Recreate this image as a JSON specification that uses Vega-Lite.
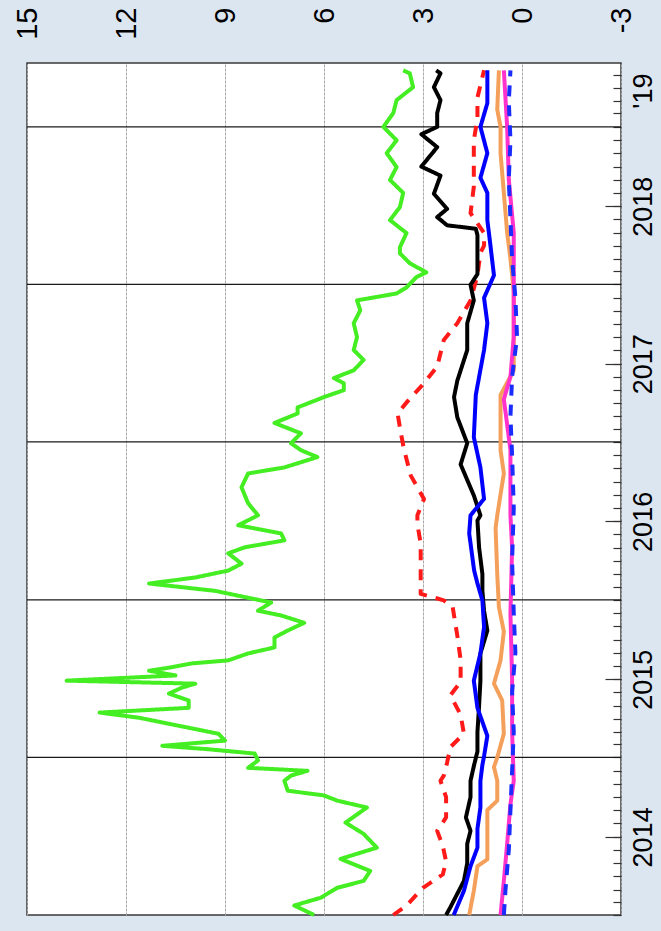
{
  "$schema": "https://vega.github.io/schema/vega-lite/v6.json",
  "width": 594,
  "height": 852,
  "autosize": {"type": "none"},
  "padding": {"left": 27, "top": 63, "right": 40, "bottom": 16},
  "background": "#dce6f0",
  "config": {
    "view": {"fill": "white", "stroke": "#3a3a3a", "strokeWidth": 1.5},
    "font": "Liberation Sans",
    "axis": {"labelFont": "Liberation Sans", "labelColor": "#000000", "title": null}
  },
  "datasets": {
    "years": [
      {"date": "2015-01-01"}, {"date": "2016-01-01"}, {"date": "2017-01-01"}, {"date": "2018-01-01"}, {"date": "2019-01-01"}
    ],
    "series": [
      {"s": "green", "d": "2014-01-01", "v": 6.3},
      {"s": "green", "d": "2014-01-23", "v": 6.9},
      {"s": "green", "d": "2014-02-10", "v": 6.1},
      {"s": "green", "d": "2014-03-05", "v": 5.6},
      {"s": "green", "d": "2014-03-21", "v": 4.8},
      {"s": "green", "d": "2014-04-13", "v": 4.6},
      {"s": "green", "d": "2014-05-11", "v": 5.5},
      {"s": "green", "d": "2014-06-06", "v": 4.4},
      {"s": "green", "d": "2014-07-08", "v": 4.8},
      {"s": "green", "d": "2014-08-03", "v": 5.35},
      {"s": "green", "d": "2014-09-07", "v": 4.7},
      {"s": "green", "d": "2014-09-23", "v": 5.6},
      {"s": "green", "d": "2014-10-05", "v": 6.0},
      {"s": "green", "d": "2014-10-16", "v": 7.1},
      {"s": "green", "d": "2014-11-08", "v": 7.2},
      {"s": "green", "d": "2014-11-20", "v": 7.0},
      {"s": "green", "d": "2014-12-01", "v": 6.5},
      {"s": "green", "d": "2014-12-08", "v": 8.3},
      {"s": "green", "d": "2014-12-25", "v": 8.0},
      {"s": "green", "d": "2015-01-10", "v": 8.1},
      {"s": "green", "d": "2015-01-20", "v": 9.5},
      {"s": "green", "d": "2015-01-28", "v": 10.9},
      {"s": "green", "d": "2015-02-09", "v": 9.0},
      {"s": "green", "d": "2015-02-25", "v": 9.2},
      {"s": "green", "d": "2015-03-20", "v": 10.7},
      {"s": "green", "d": "2015-04-03", "v": 11.6},
      {"s": "green", "d": "2015-04-15", "v": 12.8},
      {"s": "green", "d": "2015-04-26", "v": 10.1},
      {"s": "green", "d": "2015-05-13", "v": 10.1},
      {"s": "green", "d": "2015-05-29", "v": 10.7},
      {"s": "green", "d": "2015-06-12", "v": 10.3},
      {"s": "green", "d": "2015-06-21", "v": 9.9},
      {"s": "green", "d": "2015-06-28", "v": 13.8},
      {"s": "green", "d": "2015-07-10", "v": 10.5},
      {"s": "green", "d": "2015-07-21", "v": 11.3},
      {"s": "green", "d": "2015-07-28", "v": 10.7},
      {"s": "green", "d": "2015-08-07", "v": 10.0},
      {"s": "green", "d": "2015-08-14", "v": 8.9},
      {"s": "green", "d": "2015-08-30", "v": 8.3},
      {"s": "green", "d": "2015-09-13", "v": 7.5},
      {"s": "green", "d": "2015-10-06", "v": 7.5},
      {"s": "green", "d": "2015-10-22", "v": 7.1},
      {"s": "green", "d": "2015-11-09", "v": 6.6},
      {"s": "green", "d": "2015-11-26", "v": 7.3},
      {"s": "green", "d": "2015-12-07", "v": 8.0},
      {"s": "green", "d": "2015-12-26", "v": 7.6},
      {"s": "green", "d": "2016-01-06", "v": 8.3},
      {"s": "green", "d": "2016-01-22", "v": 9.3},
      {"s": "green", "d": "2016-02-08", "v": 11.3},
      {"s": "green", "d": "2016-02-22", "v": 9.9},
      {"s": "green", "d": "2016-03-09", "v": 8.9},
      {"s": "green", "d": "2016-03-25", "v": 8.5},
      {"s": "green", "d": "2016-04-18", "v": 8.9},
      {"s": "green", "d": "2016-05-02", "v": 8.4},
      {"s": "green", "d": "2016-05-18", "v": 7.2},
      {"s": "green", "d": "2016-06-03", "v": 7.3},
      {"s": "green", "d": "2016-06-22", "v": 8.6},
      {"s": "green", "d": "2016-07-15", "v": 8.0},
      {"s": "green", "d": "2016-08-12", "v": 8.3},
      {"s": "green", "d": "2016-09-18", "v": 8.5},
      {"s": "green", "d": "2016-10-20", "v": 8.3},
      {"s": "green", "d": "2016-11-03", "v": 7.2},
      {"s": "green", "d": "2016-11-27", "v": 6.2},
      {"s": "green", "d": "2016-12-13", "v": 6.7},
      {"s": "green", "d": "2016-12-29", "v": 7.0},
      {"s": "green", "d": "2017-01-21", "v": 6.7},
      {"s": "green", "d": "2017-02-14", "v": 7.5},
      {"s": "green", "d": "2017-03-08", "v": 6.8},
      {"s": "green", "d": "2017-03-22", "v": 6.8},
      {"s": "green", "d": "2017-04-15", "v": 6.0},
      {"s": "green", "d": "2017-05-01", "v": 5.4},
      {"s": "green", "d": "2017-05-17", "v": 5.4},
      {"s": "green", "d": "2017-05-29", "v": 5.7},
      {"s": "green", "d": "2017-06-16", "v": 5.1},
      {"s": "green", "d": "2017-07-10", "v": 4.8},
      {"s": "green", "d": "2017-08-02", "v": 5.1},
      {"s": "green", "d": "2017-09-01", "v": 5.0},
      {"s": "green", "d": "2017-10-03", "v": 5.1},
      {"s": "green", "d": "2017-11-02", "v": 4.9},
      {"s": "green", "d": "2017-11-25", "v": 5.0},
      {"s": "green", "d": "2017-12-11", "v": 3.8},
      {"s": "green", "d": "2017-12-25", "v": 3.5},
      {"s": "green", "d": "2018-01-18", "v": 3.2},
      {"s": "green", "d": "2018-01-29", "v": 2.9},
      {"s": "green", "d": "2018-02-19", "v": 3.4},
      {"s": "green", "d": "2018-03-14", "v": 3.7},
      {"s": "green", "d": "2018-03-28", "v": 3.7},
      {"s": "green", "d": "2018-04-30", "v": 3.5},
      {"s": "green", "d": "2018-05-30", "v": 4.0},
      {"s": "green", "d": "2018-06-29", "v": 3.7},
      {"s": "green", "d": "2018-08-01", "v": 3.6},
      {"s": "green", "d": "2018-08-31", "v": 4.0},
      {"s": "green", "d": "2018-09-30", "v": 3.8},
      {"s": "green", "d": "2018-11-01", "v": 4.1},
      {"s": "green", "d": "2018-12-01", "v": 3.8},
      {"s": "green", "d": "2019-01-01", "v": 4.2},
      {"s": "green", "d": "2019-02-02", "v": 3.9},
      {"s": "green", "d": "2019-03-04", "v": 3.8},
      {"s": "green", "d": "2019-04-03", "v": 3.3},
      {"s": "green", "d": "2019-05-05", "v": 3.4},
      {"s": "green", "d": "2019-05-12", "v": 3.6},

      {"s": "red", "d": "2014-01-01", "v": 3.9},
      {"s": "red", "d": "2014-01-23", "v": 3.5},
      {"s": "red", "d": "2014-03-05", "v": 3.0},
      {"s": "red", "d": "2014-04-05", "v": 2.4},
      {"s": "red", "d": "2014-05-05", "v": 2.3},
      {"s": "red", "d": "2014-06-10", "v": 2.4},
      {"s": "red", "d": "2014-07-15", "v": 2.57},
      {"s": "red", "d": "2014-08-15", "v": 2.3},
      {"s": "red", "d": "2014-10-01", "v": 2.3},
      {"s": "red", "d": "2014-11-08", "v": 2.47},
      {"s": "red", "d": "2014-11-20", "v": 2.37},
      {"s": "red", "d": "2014-12-20", "v": 2.27},
      {"s": "red", "d": "2015-01-25", "v": 2.17},
      {"s": "red", "d": "2015-02-25", "v": 1.76},
      {"s": "red", "d": "2015-04-10", "v": 1.86},
      {"s": "red", "d": "2015-05-25", "v": 2.17},
      {"s": "red", "d": "2015-06-25", "v": 1.86},
      {"s": "red", "d": "2015-08-15", "v": 1.86},
      {"s": "red", "d": "2015-10-10", "v": 1.96},
      {"s": "red", "d": "2015-12-15", "v": 2.1},
      {"s": "red", "d": "2015-12-31", "v": 2.37},
      {"s": "red", "d": "2016-01-15", "v": 3.07},
      {"s": "red", "d": "2016-03-09", "v": 3.07},
      {"s": "red", "d": "2016-05-10", "v": 3.07},
      {"s": "red", "d": "2016-06-25", "v": 3.17},
      {"s": "red", "d": "2016-07-15", "v": 3.17},
      {"s": "red", "d": "2016-08-22", "v": 2.97},
      {"s": "red", "d": "2016-10-15", "v": 3.37},
      {"s": "red", "d": "2016-12-13", "v": 3.57},
      {"s": "red", "d": "2017-01-21", "v": 3.67},
      {"s": "red", "d": "2017-03-08", "v": 3.77},
      {"s": "red", "d": "2017-04-05", "v": 3.47},
      {"s": "red", "d": "2017-05-17", "v": 2.97},
      {"s": "red", "d": "2017-06-25", "v": 2.57},
      {"s": "red", "d": "2017-08-25", "v": 2.37},
      {"s": "red", "d": "2017-10-03", "v": 1.96},
      {"s": "red", "d": "2017-11-25", "v": 1.56},
      {"s": "red", "d": "2018-01-22", "v": 1.35},
      {"s": "red", "d": "2018-03-15", "v": 1.26},
      {"s": "red", "d": "2018-04-01", "v": 1.15},
      {"s": "red", "d": "2018-04-30", "v": 1.15},
      {"s": "red", "d": "2018-06-15", "v": 1.56},
      {"s": "red", "d": "2018-08-15", "v": 1.46},
      {"s": "red", "d": "2018-10-01", "v": 1.46},
      {"s": "red", "d": "2018-12-01", "v": 1.46},
      {"s": "red", "d": "2019-01-20", "v": 1.35},
      {"s": "red", "d": "2019-03-10", "v": 1.35},
      {"s": "red", "d": "2019-05-12", "v": 1.15},

      {"s": "black", "d": "2014-01-01", "v": 2.3},
      {"s": "black", "d": "2014-01-19", "v": 2.17},
      {"s": "black", "d": "2014-03-21", "v": 1.76},
      {"s": "black", "d": "2014-05-01", "v": 1.66},
      {"s": "black", "d": "2014-06-15", "v": 1.66},
      {"s": "black", "d": "2014-07-15", "v": 1.56},
      {"s": "black", "d": "2014-08-15", "v": 1.7},
      {"s": "black", "d": "2014-10-01", "v": 1.56},
      {"s": "black", "d": "2014-11-08", "v": 1.56},
      {"s": "black", "d": "2014-12-15", "v": 1.45},
      {"s": "black", "d": "2015-01-15", "v": 1.35},
      {"s": "black", "d": "2015-03-01", "v": 1.35},
      {"s": "black", "d": "2015-05-01", "v": 1.3},
      {"s": "black", "d": "2015-06-28", "v": 1.26},
      {"s": "black", "d": "2015-08-30", "v": 1.26},
      {"s": "black", "d": "2015-10-22", "v": 1.05},
      {"s": "black", "d": "2015-12-07", "v": 1.15},
      {"s": "black", "d": "2016-01-22", "v": 1.2},
      {"s": "black", "d": "2016-03-01", "v": 1.2},
      {"s": "black", "d": "2016-05-01", "v": 1.3},
      {"s": "black", "d": "2016-07-03", "v": 1.35},
      {"s": "black", "d": "2016-07-15", "v": 1.26},
      {"s": "black", "d": "2016-08-30", "v": 1.46},
      {"s": "black", "d": "2016-11-10", "v": 1.86},
      {"s": "black", "d": "2016-12-29", "v": 1.66},
      {"s": "black", "d": "2017-02-27", "v": 1.96},
      {"s": "black", "d": "2017-04-15", "v": 2.06},
      {"s": "black", "d": "2017-05-23", "v": 1.96},
      {"s": "black", "d": "2017-08-02", "v": 1.66},
      {"s": "black", "d": "2017-10-03", "v": 1.66},
      {"s": "black", "d": "2017-11-25", "v": 1.46},
      {"s": "black", "d": "2017-12-31", "v": 1.56},
      {"s": "black", "d": "2018-01-25", "v": 1.35},
      {"s": "black", "d": "2018-03-01", "v": 1.35},
      {"s": "black", "d": "2018-04-25", "v": 1.35},
      {"s": "black", "d": "2018-05-10", "v": 1.4},
      {"s": "black", "d": "2018-05-18", "v": 2.27},
      {"s": "black", "d": "2018-06-06", "v": 2.57},
      {"s": "black", "d": "2018-06-25", "v": 2.27},
      {"s": "black", "d": "2018-07-30", "v": 2.67},
      {"s": "black", "d": "2018-09-10", "v": 2.47},
      {"s": "black", "d": "2018-10-01", "v": 3.05},
      {"s": "black", "d": "2018-11-15", "v": 2.57},
      {"s": "black", "d": "2018-12-15", "v": 3.05},
      {"s": "black", "d": "2019-01-01", "v": 2.57},
      {"s": "black", "d": "2019-02-02", "v": 2.57},
      {"s": "black", "d": "2019-03-04", "v": 2.47},
      {"s": "black", "d": "2019-04-03", "v": 2.67},
      {"s": "black", "d": "2019-05-05", "v": 2.47},
      {"s": "black", "d": "2019-05-12", "v": 2.6},

      {"s": "blue", "d": "2014-01-01", "v": 2.07},
      {"s": "blue", "d": "2014-02-26", "v": 1.76},
      {"s": "blue", "d": "2014-04-24", "v": 1.56},
      {"s": "blue", "d": "2014-06-06", "v": 1.35},
      {"s": "blue", "d": "2014-07-20", "v": 1.35},
      {"s": "blue", "d": "2014-09-07", "v": 1.26},
      {"s": "blue", "d": "2014-11-08", "v": 1.26},
      {"s": "blue", "d": "2014-12-15", "v": 1.2},
      {"s": "blue", "d": "2015-01-04", "v": 1.15},
      {"s": "blue", "d": "2015-02-20", "v": 1.05},
      {"s": "blue", "d": "2015-04-26", "v": 1.35},
      {"s": "blue", "d": "2015-06-28", "v": 1.46},
      {"s": "blue", "d": "2015-08-30", "v": 1.26},
      {"s": "blue", "d": "2015-10-30", "v": 1.15},
      {"s": "blue", "d": "2015-12-31", "v": 1.2},
      {"s": "blue", "d": "2016-02-08", "v": 1.35},
      {"s": "blue", "d": "2016-03-09", "v": 1.45},
      {"s": "blue", "d": "2016-06-03", "v": 1.6},
      {"s": "blue", "d": "2016-07-15", "v": 1.56},
      {"s": "blue", "d": "2016-08-22", "v": 1.15},
      {"s": "blue", "d": "2016-11-03", "v": 1.26},
      {"s": "blue", "d": "2017-01-12", "v": 1.46},
      {"s": "blue", "d": "2017-04-20", "v": 1.4},
      {"s": "blue", "d": "2017-08-02", "v": 1.15},
      {"s": "blue", "d": "2017-10-03", "v": 1.05},
      {"s": "blue", "d": "2017-12-01", "v": 1.15},
      {"s": "blue", "d": "2018-01-22", "v": 0.85},
      {"s": "blue", "d": "2018-03-28", "v": 0.95},
      {"s": "blue", "d": "2018-05-30", "v": 1.05},
      {"s": "blue", "d": "2018-08-01", "v": 1.05},
      {"s": "blue", "d": "2018-09-05", "v": 1.26},
      {"s": "blue", "d": "2018-11-01", "v": 1.05},
      {"s": "blue", "d": "2019-01-01", "v": 1.26},
      {"s": "blue", "d": "2019-02-25", "v": 1.05},
      {"s": "blue", "d": "2019-05-12", "v": 1.05},

      {"s": "orange", "d": "2014-01-01", "v": 1.6},
      {"s": "orange", "d": "2014-02-26", "v": 1.46},
      {"s": "orange", "d": "2014-04-24", "v": 1.35},
      {"s": "orange", "d": "2014-05-10", "v": 1.05},
      {"s": "orange", "d": "2014-07-15", "v": 1.05},
      {"s": "orange", "d": "2014-09-01", "v": 1.05},
      {"s": "orange", "d": "2014-09-23", "v": 0.75},
      {"s": "orange", "d": "2014-11-08", "v": 0.75},
      {"s": "orange", "d": "2014-12-10", "v": 0.85},
      {"s": "orange", "d": "2015-01-01", "v": 0.75},
      {"s": "orange", "d": "2015-02-25", "v": 0.55},
      {"s": "orange", "d": "2015-05-13", "v": 0.6},
      {"s": "orange", "d": "2015-06-21", "v": 0.85},
      {"s": "orange", "d": "2015-08-14", "v": 0.65},
      {"s": "orange", "d": "2015-10-20", "v": 0.55},
      {"s": "orange", "d": "2015-12-15", "v": 0.7},
      {"s": "orange", "d": "2016-03-01", "v": 0.75},
      {"s": "orange", "d": "2016-06-15", "v": 0.8},
      {"s": "orange", "d": "2016-07-15", "v": 0.75},
      {"s": "orange", "d": "2016-10-20", "v": 0.55},
      {"s": "orange", "d": "2016-12-13", "v": 0.65},
      {"s": "orange", "d": "2017-04-20", "v": 0.65},
      {"s": "orange", "d": "2017-06-16", "v": 0.25},
      {"s": "orange", "d": "2017-10-01", "v": 0.25},
      {"s": "orange", "d": "2017-12-15", "v": 0.25},
      {"s": "orange", "d": "2018-03-01", "v": 0.35},
      {"s": "orange", "d": "2018-05-01", "v": 0.45},
      {"s": "orange", "d": "2018-08-01", "v": 0.55},
      {"s": "orange", "d": "2018-11-01", "v": 0.65},
      {"s": "orange", "d": "2019-01-01", "v": 0.65},
      {"s": "orange", "d": "2019-02-10", "v": 0.75},
      {"s": "orange", "d": "2019-05-12", "v": 0.7},

      {"s": "magenta", "d": "2014-01-01", "v": 0.65},
      {"s": "magenta", "d": "2014-03-21", "v": 0.55},
      {"s": "magenta", "d": "2014-06-15", "v": 0.45},
      {"s": "magenta", "d": "2014-09-15", "v": 0.35},
      {"s": "magenta", "d": "2014-11-08", "v": 0.25},
      {"s": "magenta", "d": "2015-03-01", "v": 0.3},
      {"s": "magenta", "d": "2015-07-01", "v": 0.3},
      {"s": "magenta", "d": "2015-12-01", "v": 0.35},
      {"s": "magenta", "d": "2016-05-01", "v": 0.3},
      {"s": "magenta", "d": "2016-07-15", "v": 0.35},
      {"s": "magenta", "d": "2016-12-13", "v": 0.35},
      {"s": "magenta", "d": "2017-04-10", "v": 0.55},
      {"s": "magenta", "d": "2017-06-01", "v": 0.35},
      {"s": "magenta", "d": "2017-09-01", "v": 0.25},
      {"s": "magenta", "d": "2018-01-01", "v": 0.25},
      {"s": "magenta", "d": "2018-05-01", "v": 0.25},
      {"s": "magenta", "d": "2018-09-01", "v": 0.4},
      {"s": "magenta", "d": "2019-01-01", "v": 0.45},
      {"s": "magenta", "d": "2019-05-12", "v": 0.55},

      {"s": "bluedash", "d": "2014-01-01", "v": 0.55},
      {"s": "bluedash", "d": "2014-03-01", "v": 0.5},
      {"s": "bluedash", "d": "2014-06-01", "v": 0.4},
      {"s": "bluedash", "d": "2014-09-01", "v": 0.35},
      {"s": "bluedash", "d": "2014-12-01", "v": 0.3},
      {"s": "bluedash", "d": "2015-03-01", "v": 0.25},
      {"s": "bluedash", "d": "2015-06-01", "v": 0.3},
      {"s": "bluedash", "d": "2015-09-01", "v": 0.2},
      {"s": "bluedash", "d": "2015-12-01", "v": 0.25},
      {"s": "bluedash", "d": "2016-04-01", "v": 0.3},
      {"s": "bluedash", "d": "2016-08-01", "v": 0.25},
      {"s": "bluedash", "d": "2016-12-01", "v": 0.3},
      {"s": "bluedash", "d": "2017-03-01", "v": 0.35},
      {"s": "bluedash", "d": "2017-06-01", "v": 0.3},
      {"s": "bluedash", "d": "2017-09-01", "v": 0.15},
      {"s": "bluedash", "d": "2017-12-01", "v": 0.2},
      {"s": "bluedash", "d": "2018-03-01", "v": 0.3},
      {"s": "bluedash", "d": "2018-06-01", "v": 0.35},
      {"s": "bluedash", "d": "2018-09-01", "v": 0.4},
      {"s": "bluedash", "d": "2018-12-01", "v": 0.35},
      {"s": "bluedash", "d": "2019-03-01", "v": 0.4},
      {"s": "bluedash", "d": "2019-05-12", "v": 0.35}
    ]
  },
  "layer": [
    {
      "data": {"name": "years"},
      "mark": {"type": "rule", "color": "#1a1a1a", "strokeWidth": 1.3},
      "encoding": {
        "y": {
          "field": "date",
          "type": "temporal",
          "scale": {"type": "utc", "domain": [{"year": 2014, "month": 1, "date": 1, "utc": true}, {"year": 2019, "month": 5, "date": 29, "utc": true}], "nice": false},
          "axis": {
            "orient": "right",
            "tickCount": {"interval": "month", "step": 1},
            "labels": false,
            "tickSize": -8,
            "tickColor": "#333333",
            "tickWidth": 1.2,
            "grid": false,
            "domain": false,
            "title": null
          }
        }
      }
    },
    {
      "data": {"name": "series"},
      "mark": {"type": "line", "strokeJoin": "round", "strokeCap": "butt"},
      "encoding": {
        "y": {
          "field": "d",
          "type": "temporal",
          "axis": {
            "orient": "right",
            "values": [
              {"year": 2014, "month": 7, "date": 1, "utc": true},
              {"year": 2015, "month": 7, "date": 1, "utc": true},
              {"year": 2016, "month": 7, "date": 1, "utc": true},
              {"year": 2017, "month": 7, "date": 1, "utc": true},
              {"year": 2018, "month": 7, "date": 1, "utc": true},
              {"year": 2019, "month": 3, "date": 26, "utc": true}
            ],
            "labelExpr": "utcyear(datum.value) == 2019 ? \"'19\" : '' + utcyear(datum.value)",
            "tickSize": -16,
            "tickColor": "#333333",
            "tickWidth": 1.2,
            "tickOpacity": {"condition": {"test": "utcyear(datum.value) == 2019", "value": 0}, "value": 1},
            "labelAngle": 270,
            "labelAlign": "center",
            "labelBaseline": "top",
            "labelPadding": 25.5,
            "labelFontSize": 27,
            "labelFlush": false,
            "labelOverlap": false,
            "labelBound": false,
            "grid": false,
            "domain": false,
            "title": null
          }
        },
        "x": {
          "field": "v",
          "type": "quantitative",
          "scale": {"domain": [-3, 15], "reverse": true, "nice": false, "zero": false},
          "axis": {
            "orient": "top",
            "values": [-3, 0, 3, 6, 9, 12, 15],
            "labelExpr": "'' + datum.value",
            "labelAngle": 270,
            "labelAlign": "right",
            "labelBaseline": "middle",
            "labelPadding": 56,
            "labelFontSize": 29,
            "labelFlush": false,
            "labelOverlap": false,
            "labelBound": false,
            "ticks": false,
            "tickSize": 0,
            "domain": false,
            "grid": true,
            "gridColor": "#a8a8a8",
            "gridWidth": 1,
            "gridDash": [3, 1],
            "title": null
          }
        },
        "order": {"field": "d", "type": "temporal"},
        "color": {
          "field": "s",
          "type": "nominal",
          "scale": {"domain": ["green", "red", "black", "blue", "orange", "magenta", "bluedash"], "range": ["#44ee22", "#ff1a1a", "#000000", "#0000ff", "#f4a05a", "#ff33cc", "#1a2cff"]},
          "legend": null
        },
        "strokeDash": {
          "field": "s",
          "type": "nominal",
          "scale": {"domain": ["green", "red", "black", "blue", "orange", "magenta", "bluedash"], "range": [[1, 0], [11, 9], [1, 0], [1, 0], [1, 0], [1, 0], [11, 9]]},
          "legend": null
        },
        "strokeWidth": {
          "field": "s",
          "type": "nominal",
          "scale": {"domain": ["green", "red", "black", "blue", "orange", "magenta", "bluedash"], "range": [4, 4, 3.5, 3.5, 2.5, 2.5, 3.5]},
          "legend": null
        }
      }
    }
  ],
  "resolve": {"axis": {"y": "independent"}}
}
